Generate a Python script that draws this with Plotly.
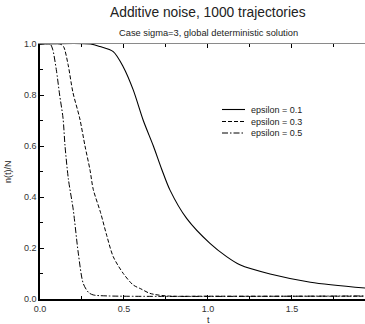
import plotly.graph_objects as go

# epsilon = 0.1 (solid)
t1 = [0.0, 0.30, 0.357, 0.436, 0.496, 0.555, 0.615, 0.675, 0.724, 0.774, 0.873, 1.012, 1.111, 1.19, 1.37, 1.61, 1.95]
n1 = [1.0, 1.0, 0.99, 0.97, 0.91, 0.82, 0.70, 0.60, 0.51, 0.427, 0.316, 0.218, 0.166, 0.134, 0.098, 0.066, 0.042]
# epsilon = 0.3 (dashed)
t3 = [0.0, 0.12, 0.14, 0.167, 0.196, 0.236, 0.268, 0.298, 0.317, 0.36, 0.397, 0.436, 0.496, 0.555, 0.60, 0.655, 0.754, 1.0, 1.95]
n3 = [1.0, 1.0, 0.99, 0.92, 0.81, 0.71, 0.60, 0.505, 0.43, 0.34, 0.25, 0.166, 0.10, 0.055, 0.04, 0.022, 0.012, 0.011, 0.011]
# epsilon = 0.5 (dash-dot)
t5 = [0.0, 0.06, 0.075, 0.097, 0.117, 0.137, 0.149, 0.169, 0.198, 0.228, 0.258, 0.29, 0.317, 0.40, 1.95]
n5 = [1.0, 1.0, 0.98, 0.90, 0.80, 0.71, 0.60, 0.47, 0.35, 0.18, 0.06, 0.025, 0.016, 0.012, 0.012]

names = ["epsilon = 0.1", "epsilon = 0.3", "epsilon = 0.5"]
xticks = [0.0, 0.5, 1.0, 1.5]
yticks = [0.0, 0.2, 0.4, 0.6, 0.8, 1.0]

FONT = "Liberation Sans, Arial, sans-serif"
W, H = 365, 324
L, R, T, B = 40, 0, 44, 25
PW, PH = W - L - R, H - T - B


def px2paper(px, py):
    return (px - L) / PW, (H - B - py) / PH


fig = go.Figure()
styles = [("solid", 1.1), ("4px,2px", 1.0), ("6px,2px,1.5px,2px", 1.0)]
for (t, n), name, (dash, w) in zip([(t1, n1), (t3, n3), (t5, n5)], names, styles):
    fig.add_trace(go.Scatter(x=t, y=n, mode="lines", name=name, showlegend=False,
                             line=dict(color="black", width=w, dash=dash,
                                       shape="spline", smoothing=0.8)))

# invisible trace to carry the top axis
fig.add_trace(go.Scatter(x=t1, y=n1, xaxis="x2", mode="lines", line=dict(width=0),
                         opacity=0, showlegend=False, hoverinfo="skip"))

fig.update_layout(
    width=W, height=H,
    margin=dict(l=L, r=R, t=T, b=B),
    paper_bgcolor="white", plot_bgcolor="white",
    font=dict(family=FONT, size=9, color="#222"),
    showlegend=False,
    xaxis=dict(range=[0, 1.935], tickvals=xticks, ticktext=[f"{v:.1f}" for v in xticks],
               ticks="inside", ticklen=4, tickcolor="black", showline=True,
               linecolor="black", linewidth=1.5, showgrid=False, zeroline=False,
               minor=dict(dtick=0.25, tick0=0, ticks="inside", ticklen=3, tickcolor="black"),
               tickfont=dict(size=9, color="#333")),
    xaxis2=dict(range=[0, 1.935], overlaying="x", anchor="y", side="top", tickvals=xticks,
                showticklabels=False, ticks="inside", ticklen=4, tickwidth=1, tickcolor="black",
                showline=True, linecolor="#8a8a8a", linewidth=1, showgrid=False, zeroline=False,
                minor=dict(dtick=0.25, tick0=0, ticks="inside", ticklen=3, tickcolor="black")),
    yaxis=dict(range=[0, 1.0], tickvals=yticks, ticktext=[f"{v:.1f}" for v in yticks],
               ticks="inside", ticklen=4, tickcolor="black", showline=True,
               linecolor="black", linewidth=1.5, showgrid=False, zeroline=False,
               minor=dict(dtick=0.1, tick0=0, ticks="inside", ticklen=3, tickcolor="black"),
               tickfont=dict(size=9, color="#333")),
)


def ann(text, px, py, size, angle=0, xanchor="center"):
    x, y = px2paper(px, py)
    fig.add_annotation(text=text, x=x, y=y, xref="paper", yref="paper", showarrow=False,
                       xanchor=xanchor, yanchor="middle", textangle=angle,
                       font=dict(size=size, color="#222", family=FONT))


ann("Additive noise, 1000 trajectories", 208, 13, 13.8)
ann("Case sigma=3, global deterministic solution", 208, 33, 9.3)
ann("t", 208, 320, 9)
ann("n(t)/N", 8, 172, 9, angle=-90)

# legend drawn manually
leg_y = [109.5, 121.5, 133]
for name, (dash, w), ly in zip(names, styles, leg_y):
    x0, y0 = px2paper(222, ly)
    x1, _ = px2paper(245, ly)
    fig.add_shape(type="line", xref="paper", yref="paper", x0=x0, x1=x1, y0=y0, y1=y0,
                  line=dict(color="black", width=w, dash=dash))
    ann(name, 249, ly, 9, xanchor="left")

fig.write_html("out.html")
